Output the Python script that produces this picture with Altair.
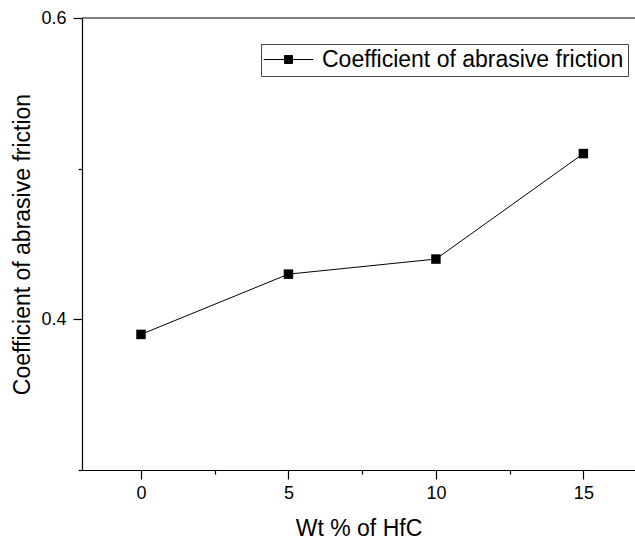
import altair as alt
import pandas as pd

# Measured coefficient of abrasive friction vs. HfC content
wt_hfc = [0, 5, 10, 15]
friction = [0.390, 0.430, 0.440, 0.510]
series_name = "Coefficient of abrasive friction"

x_ticks = [0, 2.5, 5, 7.5, 10, 12.5, 15]
y_ticks = [0.3, 0.4, 0.5, 0.6]

df = pd.DataFrame({"wt": wt_hfc, "cof": friction, "series": series_name})

FONT = "Liberation Sans"

x_enc = alt.X(
    "wt:Q",
    scale=alt.Scale(domain=[-2, 16.75], nice=False, zero=False),
    axis=alt.Axis(
        title="Wt % of HfC",
        values=x_ticks,
        labelExpr="datum.value % 5 === 0 ? format(datum.value, 'd') : ''",
        tickSize={"condition": {"test": "datum.value % 5 === 0", "value": 9}, "value": 4},
        labelPadding=5,
        titlePadding=15,
    ),
)
y_enc = alt.Y(
    "cof:Q",
    scale=alt.Scale(domain=[0.3, 0.6], nice=False, zero=False),
    axis=alt.Axis(
        title="Coefficient of abrasive friction",
        values=y_ticks,
        format=".1f",
        labelExpr="(datum.label == '0.4' || datum.label == '0.6') ? datum.label : ''",
        tickSize={
            "condition": {
                "test": "abs(datum.value - 0.4) < 1e-6 || abs(datum.value - 0.6) < 1e-6",
                "value": 9,
            },
            "value": 4,
        },
        labelPadding=7,
        titlePadding=6,
    ),
)
color_enc = alt.Color(
    "series:N",
    scale=alt.Scale(range=["black"]),
    legend=alt.Legend(
        title=None,
        orient="none",
        legendX=179,
        legendY=26,
        fillColor="white",
        strokeColor="#444444",
        padding=4,
        labelFont=FONT,
        labelFontSize=23,
        labelColor="black",
        labelLimit=0,
        symbolType="M-6.2,0L6.2,0M-1,-1H1V1H-1Z",
        symbolSize=64,
        symbolFillColor="black",
        symbolStrokeColor="black",
        symbolStrokeWidth=1,
        symbolOpacity=1,
        symbolOffset=12,
        labelOffset=22,
    ),
)

base = alt.Chart(df)

# connecting line carries the legend; markers are drawn on top
line = base.mark_line(strokeWidth=1, color="black").encode(x=x_enc, y=y_enc, color=color_enc)
points = base.mark_point(shape="square", filled=True, size=90, opacity=1, color="black").encode(
    x="wt:Q", y="cof:Q"
)
top_line = alt.Chart(pd.DataFrame({"y": [0.6]})).mark_rule(color="black", strokeWidth=1.2).encode(
    y=alt.Y("y:Q")
)

chart = (
    alt.layer(top_line, line, points)
    .properties(
        width=553,
        height=452,
        autosize=alt.AutoSizeParams(type="none"),
        padding={"left": 82, "top": 18, "right": 0, "bottom": 72},
    )
    .configure_view(stroke=None)
    .configure_axis(
        domainColor="black",
        domainWidth=1.2,
        tickColor="black",
        tickWidth=1.2,
        grid=False,
        labelFont=FONT,
        labelFontSize=18,
        labelColor="black",
        titleFont=FONT,
        titleFontSize=23,
        titleFontWeight="normal",
        titleColor="black",
    )
)

chart.save("out.html", embed_options={"renderer": "svg", "actions": False})
